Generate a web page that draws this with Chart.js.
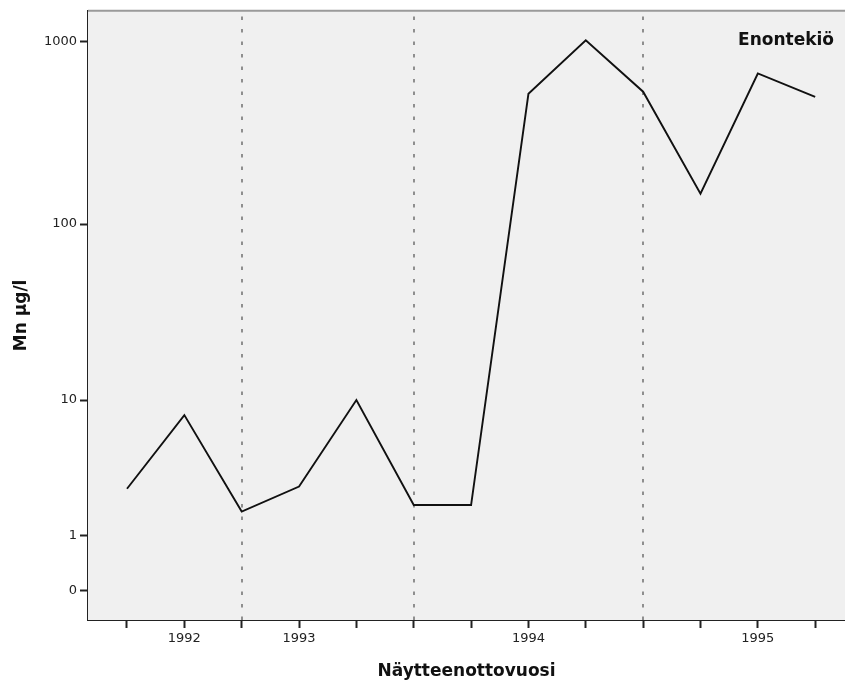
<!DOCTYPE html>
<html>
<head>
<meta charset="utf-8">
<script src="https://cdn.jsdelivr.net/npm/chart.js@4/dist/chart.umd.min.js"></script>
<style>
  html, body { margin: 0; padding: 0; background: #ffffff; }
  #wrap { width: 845px; height: 685px; }
</style>
</head>
<body>
<div id="wrap"><canvas id="c" width="845" height="685"></canvas></div>
<script>
// Mn (µg/l) measurements, Enontekiö, in sampling order
const mnValues = [2.6, 8.1, 1.7, 2.7, 10, 1.93, 1.93, 520, 1020, 534, 147, 672, 501];

// Labels under the sample ticks (year shown once per year)
const xTickLabels = ['', '1992', '', '1993', '', '', '', '1994', '', '', '', '1995', ''];

// Sample positions where one year ends and the next begins
const yearBreaks = [2, 5, 9];

// Value axis tick marks (axis is log10(value + 1))
const yTickValues = [0, 1, 10, 100, 1000];
const yTickLabels = ['0', '1', '10', '100', '1000'];

const stationName = 'Enontekiö';

const toAxis = v => Math.log10(v + 1);

const points = mnValues.map((v, i) => ({ x: i, y: toAxis(v) }));

const FONT = "'DejaVu Sans', Verdana, sans-serif";

// Plot background, top frame line, year separators and the station label
const decorations = {
  id: 'decorations',
  beforeDatasetsDraw(chart) {
    const { ctx, chartArea: a, scales: { x } } = chart;
    ctx.save();
    ctx.fillStyle = '#f0f0f0';
    ctx.fillRect(a.left, a.top, a.right - a.left, a.bottom - a.top);

    ctx.strokeStyle = '#777777';
    ctx.lineWidth = 1.6;
    ctx.setLineDash([3.5, 9]);
    yearBreaks.forEach(b => {
      const px = Math.round(x.getPixelForValue(b));
      ctx.beginPath();
      ctx.moveTo(px, a.bottom);
      ctx.lineTo(px, a.top);
      ctx.stroke();
    });
    ctx.setLineDash([]);

    ctx.strokeStyle = '#9a9a9a';
    ctx.lineWidth = 2;
    ctx.beginPath();
    ctx.moveTo(a.left, a.top);
    ctx.lineTo(a.right, a.top);
    ctx.stroke();
    ctx.restore();
  },
  afterDraw(chart) {
    const { ctx, chartArea: a } = chart;
    ctx.save();
    ctx.font = 'bold 17px ' + FONT;
    ctx.fillStyle = '#111';
    ctx.textAlign = 'right';
    ctx.textBaseline = 'middle';
    ctx.fillText(stationName, a.right - 11, a.top + 30);
    ctx.restore();
  }
};

new Chart(document.getElementById('c'), {
  type: 'line',
  data: {
    datasets: [{
      data: points,
      borderColor: '#111111',
      borderWidth: 1.9,
      pointRadius: 0,
      tension: 0,
      fill: false
    }]
  },
  options: {
    responsive: false,
    animation: false,
    layout: { padding: { top: 10, right: 0, left: 0, bottom: 0 } },
    plugins: { legend: { display: false }, tooltip: { enabled: false } },
    scales: {
      x: {
        type: 'linear',
        min: -0.68,
        max: 12.52,
        afterBuildTicks(s) { s.ticks = xTickLabels.map((_, i) => ({ value: i })); },
        afterFit(s) { s.height = 65; },
        grid: { display: true, drawOnChartArea: false, drawTicks: true, tickLength: 8, tickColor: '#222', tickWidth: 2 },
        border: { display: true, color: '#222', width: 2 },
        ticks: {
          autoSkip: false,
          maxRotation: 0,
          padding: 3,
          color: '#222',
          font: { family: FONT, size: 13 },
          callback: (v, i) => xTickLabels[i]
        },
        title: {
          display: true,
          text: 'Näytteenottovuosi',
          color: '#111',
          font: { family: FONT, size: 17, weight: 'bold' },
          padding: { top: 0, bottom: 3 }
        }
      },
      y: {
        type: 'linear',
        min: -0.162,
        max: 3.171,
        afterBuildTicks(s) { s.ticks = yTickValues.map(v => ({ value: toAxis(v) })); },
        afterFit(s) { s.width = 88; },
        grid: { display: true, drawOnChartArea: false, drawTicks: true, tickLength: 8, tickColor: '#222', tickWidth: 2 },
        border: { display: true, color: '#222', width: 2 },
        ticks: {
          padding: 3,
          color: '#222',
          font: { family: FONT, size: 13 },
          callback: (v, i) => yTickLabels[i]
        },
        title: {
          display: true,
          text: 'Mn µg/l',
          color: '#111',
          font: { family: FONT, size: 17, weight: 'bold' },
          padding: { top: 11, bottom: 0 }
        }
      }
    }
  },
  plugins: [decorations]
});
</script>
</body>
</html>
